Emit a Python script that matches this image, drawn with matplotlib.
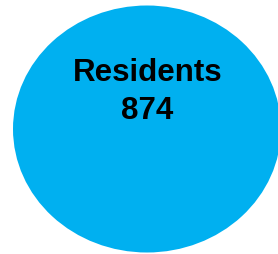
import matplotlib
matplotlib.use("Agg")
import matplotlib.pyplot as plt
from matplotlib.patches import Ellipse

labels = ["Residents"]
values = [874]

W, H = 278, 255
fig = plt.figure(figsize=(W / 100, H / 100), dpi=100)
ax = fig.add_axes([0, 0, 1, 1])
ax.set_xlim(0, W)
ax.set_ylim(H, 0)
ax.axis("off")

ax.add_patch(Ellipse((147, 130), 268, 247, facecolor="#00B0F0", edgecolor="none"))

ax.text(147.5, 81, labels[0], ha="center", va="baseline", fontsize=22.5,
        fontweight="bold", family="Liberation Sans", color="black")
ax.text(147.5, 119, str(values[0]), ha="center", va="baseline", fontsize=22.5,
        fontweight="bold", family="Liberation Sans", color="black")

fig.savefig("out.png", dpi=100, facecolor="white")
